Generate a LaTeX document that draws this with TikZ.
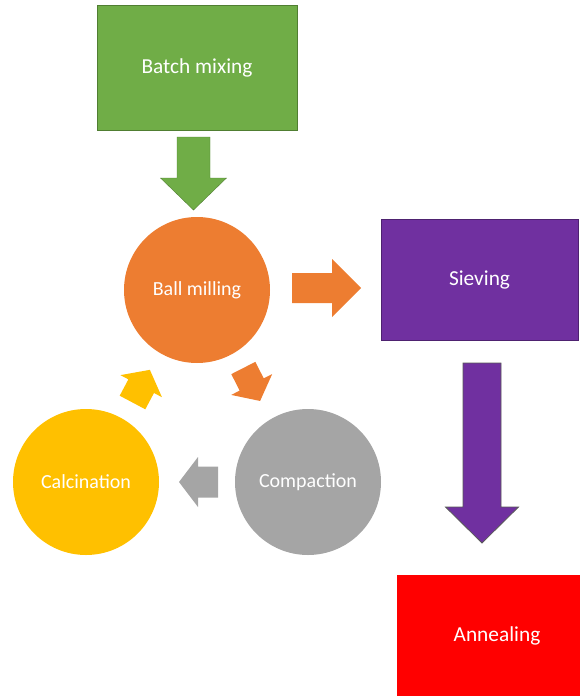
\documentclass[tikz,border=0pt]{standalone}
\usepackage{fontspec}
\setmainfont{Carlito}
\usepackage{tikz}
\usepackage{xcolor}
\usetikzlibrary{
    calc,
    positioning
}

\definecolor{mixgreen}{HTML}{70AD47}
\definecolor{mixgreendark}{HTML}{507E32}
\definecolor{millorange}{HTML}{ED7D31}
\definecolor{sievepurple}{HTML}{7030A0}
\definecolor{sievepurpledark}{HTML}{4E2270}
\definecolor{compgray}{HTML}{A5A5A5}
\definecolor{calcyellow}{HTML}{FFC000}
\definecolor{annealred}{HTML}{FF0000}

% block arrow: colour, start, angle, length, shaft half width, head half width, head length
\newcommand{\blockarrow}[7]{%
    \fill[#1, shift={#2}, rotate=#3]
    (0, -#5) -- ({#4-#7}, -#5) -- ({#4-#7}, -#6) -- (#4, 0)
    -- ({#4-#7}, #6) -- ({#4-#7}, #5) -- (0, #5) -- cycle;}

\tikzset{
    stepbox/.style={rectangle, text=white, inner sep=0pt, line width=0.7pt,
        font=\fontsize{16}{19}\selectfont},
    stepcircle/.style={circle, text=white, inner sep=0pt, minimum size=109.5pt,
        font=\fontsize{15}{18}\selectfont}
}

\begin{document}
\begin{tikzpicture}[x=0.75pt, y=-0.75pt]
                        \useasboundingbox (0, 0) rectangle (580, 696);
                        \clip (0, 0) rectangle (580, 696);

                        \node[stepbox, fill=mixgreen, draw=mixgreendark, minimum width=150pt, minimum height=93.75pt]
                        (mix) at (197, 67.5) {Batch mixing};
                        \node[stepbox, fill=sievepurple, draw=sievepurpledark, minimum width=147.75pt, minimum height=90.75pt]
                        (sieve) at (479.5, 279.5) {Sieving};
                        \node[stepbox, fill=annealred, draw=annealred, minimum width=150pt, minimum height=91.5pt]
                        (anneal) at (497, 636) {Annealing};

                        \node[stepcircle, fill=millorange] (mill) at (197, 290) {Ball milling};
                        \node[stepcircle, fill=compgray] (compact) at (308, 482) {Compaction};
                        \node[stepcircle, fill=calcyellow] (calcine) at (86, 482) {Calcination};

                        \blockarrow{mixgreen, draw=mixgreendark, line width=0.3pt}{(193.5, 137)}{-90}{73}{16.5}{33}{32}
                        \blockarrow{millorange}{(292, 288)}{0}{69}{15}{29}{29}
                        \blockarrow{sievepurple, draw=black!65, line width=0.6pt}{(482, 363)}{-90}{180}{19}{36.5}{36}
                        \blockarrow{millorange}{(243.3, 368)}{-63}{37}{13.5}{23}{18.5}
                        \blockarrow{compgray}{(218, 482)}{180}{39}{15.5}{25}{19}
                        \blockarrow{calcyellow}{(132.5, 402.5)}{62}{37}{14.5}{23.5}{18.5}
                    \end{tikzpicture}
\end{document}
